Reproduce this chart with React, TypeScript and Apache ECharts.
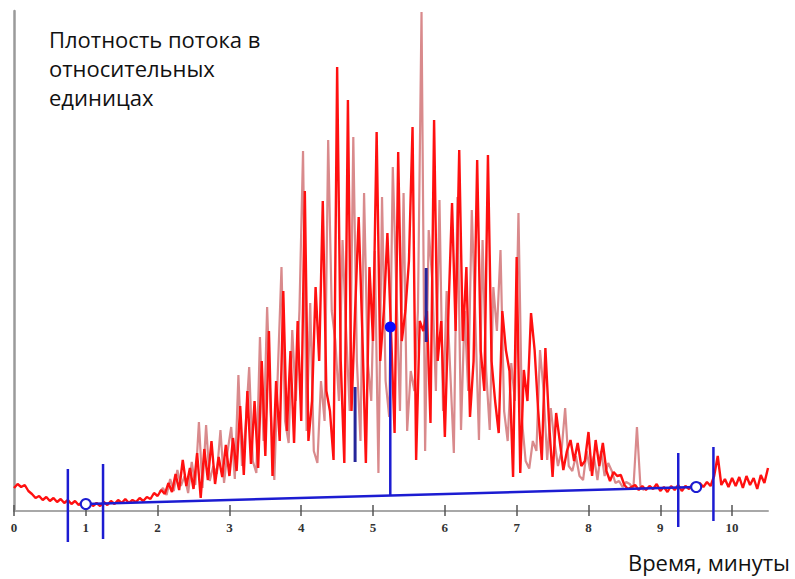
import React, { useEffect, useRef } from "react";
import * as echarts from "echarts";

// Time axis (minutes)
const xTicks = [0, 1, 2, 3, 4, 5, 6, 7, 8, 9, 10];
const xMin = 0;
const xMax = 10.5;
const yMin = 0;
const yMax = 100;

// Main red trace, sampled every 0.05 min from 0.00 to 10.50
const redStart = 0;
const redStep = 0.05;
const redValues = [
  4.6, 5.4, 4.8, 5.2, 4.0, 3.4, 2.6, 3.0, 2.2, 2.8,
  2.0, 2.6, 1.8, 2.4, 1.6, 2.2, 1.4, 2.0, 1.2, 1.8,
  1.2, 1.8, 1.0, 1.6, 1.0, 1.8, 1.2, 2.0, 1.4, 2.2,
  1.6, 2.4, 1.6, 2.2, 1.8, 2.6, 2.0, 2.8, 2.4, 3.6,
  3.0,
  4.2, 3.4, 5.6, 3.8, 7.4, 4.2, 10.2, 5.0, 8.6, 4.4,
  11.6, 2.6, 12.4, 6.2, 14.0, 5.4, 10.8, 6.8, 13.2, 7.0,
  14.6, 8.0, 21.0, 7.2, 24.0, 9.4, 22.0, 8.6, 30.0, 11.0,
  36.0, 7.0, 26.0, 14.0, 44.0, 16.0, 32.0, 13.6, 38.0, 18.0,
  64.0, 14.0, 22.0, 44.8, 30.0, 62.0, 24.0, 20.0, 10.2, 88.8,
  30.0, 9.6, 82.2, 20.0, 40.0, 58.8, 36.0, 9.6, 48.8, 34.0,
  75.8, 30.0, 40.0, 55.6, 36.0, 15.6, 71.8, 34.0, 40.0, 50.0,
  76.8, 10.2, 38.0, 36.0, 40.0, 17.6, 78.2, 30.0, 38.0, 14.8,
  40.0, 61.6, 36.0, 72.2, 34.0, 48.8, 18.8, 30.0, 70.2, 32.0,
  24.0, 71.2, 30.0, 22.0, 15.6, 40.0, 32.2, 28.0, 6.8, 50.8,
  7.6, 28.2, 22.0, 39.6, 32.2, 20.0, 10.2, 32.6, 18.0, 6.8,
  19.6, 14.0, 8.2, 12.0, 14.2, 10.0, 13.6, 9.0, 10.0, 15.8,
  7.0, 14.2, 9.0, 13.6, 8.0, 6.0, 7.8, 7.0, 7.2, 5.2,
  4.4, 4.8, 5.2, 4.2, 5.0, 4.2,
  5.0, 4.4, 5.4, 4.0, 4.8, 3.8, 5.0, 4.2, 5.2, 4.0,
  5.0, 4.4, 5.4, 4.6, 5.6, 4.8, 5.8, 5.0, 7.0, 11.0,
  5.2, 6.4, 4.8, 6.6, 5.0, 6.8, 4.6, 7.0, 5.2, 6.6,
  4.4, 7.2, 5.6, 8.6,
];

// Second (pale) trace, sampled every 0.05 min from 2.025 to 8.775
const pinkStart = 2.025;
const pinkStep = 0.05;
const pinkValues = [
  3.8, 4.6, 3.2, 6.4, 4.0, 8.2, 5.0, 7.0, 3.6, 9.8,
  5.2, 17.8, 4.6, 17.2, 6.0, 9.0, 7.4, 16.2, 5.6, 12.0,
  16.8, 6.4, 27.2, 9.0, 17.0, 28.8, 10.0, 7.6, 34.8, 14.0,
  40.8, 20.0, 6.2, 28.2, 48.8, 18.0, 13.6, 36.2, 22.0, 40.2,
  72.0, 16.0, 41.6, 12.0, 9.6, 26.0, 18.0, 74.2, 40.0, 34.0,
  22.0, 54.2, 36.0, 20.0, 74.8, 30.0, 14.0, 63.6, 30.0, 22.0,
  52.0, 7.6, 62.8, 26.0, 18.8, 68.8, 44.0, 20.0, 63.6, 16.0,
  28.0, 24.0, 40.0, 99.8, 12.0, 56.2, 46.0, 24.0, 62.2, 20.0,
  44.0, 28.0, 11.6, 62.8, 16.2, 40.0, 24.0, 60.2, 38.0, 14.2,
  54.2, 28.0, 16.2, 44.8, 36.0, 52.2, 20.0, 14.0, 29.6, 22.0,
  59.6, 18.0, 10.0, 8.5, 14.0, 12.0, 32.2, 24.0, 10.2, 20.6,
  14.0, 9.0, 12.0, 20.6, 9.0, 8.0, 11.0, 7.0, 6.2, 12.0,
  8.0, 11.0, 6.2, 12.0, 7.0, 9.6, 8.0, 5.6, 6.0, 4.8,
  5.8, 5.4, 4.4, 16.8, 4.6, 4.2,
];

// Blue annotation: baseline between two reference points
const baselineTimes = [1.0, 9.5];
const baselineValues = [1.4, 4.8];

// Blue boundary markers (vertical)
const boundaryTimes = [0.75, 1.24, 9.25, 9.74];
const boundaryTops = [8.4, 9.4, 11.6, 12.8];
const boundaryBottoms = [-6.2, -5.6, -3.2, -2.0];

// Peak marker
const peakTime = 5.24;
const peakBase = 3.1;
const peakValue = 36.8;

// Short dark-blue marks on either side of the peak
const sideTimes = [4.75, 5.74];
const sideLows = [9.8, 33.8];
const sideHighs = [24.8, 48.6];

const yTitleLines = ["Плотность потока в", "относительных", "единицах"];
const xTitle = "Время, минуты";

const BLUE = "#1c1cd2";

export default function App() {
  const ref = useRef<HTMLDivElement>(null);

  useEffect(() => {
    if (!ref.current) return;
    const chart = echarts.init(ref.current, undefined, { renderer: "svg" });

    const redData = redValues.map((v, i) => [+(redStart + i * redStep).toFixed(3), v]);
    const pinkData = pinkValues.map((v, i) => [+(pinkStart + i * pinkStep).toFixed(3), v]);

    const boundarySeries = boundaryTimes.map((t, i) => ({
      type: "line",
      data: [
        [t, boundaryTops[i]],
        [t, boundaryBottoms[i]],
      ],
      symbol: "none",
      clip: false,
      lineStyle: { color: BLUE, width: 2.5 },
      z: 6,
      silent: true,
    }));

    const sideSeries = sideTimes.map((t, i) => ({
      type: "line",
      data: [
        [t, sideLows[i]],
        [t, sideHighs[i]],
      ],
      symbol: "none",
      clip: false,
      lineStyle: { color: "#26269a", width: 3 },
      z: 6,
      silent: true,
    }));

    const option: any = {
      animation: false,
      backgroundColor: "#ffffff",
      grid: { left: 14, right: 27, top: 11, bottom: 68, containLabel: false },
      xAxis: [
        {
          type: "value",
          min: xMin,
          max: xMax,
          interval: 1,
          axisLine: { show: true, lineStyle: { color: "#a8a8a8", width: 2 } },
          axisTick: {
            show: true,
            customValues: xTicks,
            length: 5,
            lineStyle: { color: "#555555", width: 1.5 },
          },
          axisLabel: {
            customValues: xTicks,
            margin: 10,
            color: "#333333",
            fontFamily: "Liberation Serif",
            fontWeight: "bold",
            fontSize: 13,
          },
          splitLine: { show: false },
        },
        {
          type: "value",
          position: "bottom",
          offset: 0,
          min: xMin,
          max: xMax,
          interval: 1,
          axisLine: { show: false },
          axisTick: {
            show: true,
            inside: true,
            customValues: xTicks,
            length: 6,
            lineStyle: { color: "#555555", width: 1.5 },
          },
          axisLabel: { show: false },
          splitLine: { show: false },
        },
      ],
      yAxis: {
        type: "value",
        min: yMin,
        max: yMax,
        axisLine: { show: true, lineStyle: { color: "#9a9a9a", width: 2.5 } },
        axisTick: { show: false },
        axisLabel: { show: false },
        splitLine: { show: false },
      },
      series: [
        {
          type: "line",
          data: pinkData,
          symbol: "none",
          lineStyle: { color: "#d98a8c", width: 2.2 },
          z: 2,
          silent: true,
        },
        {
          type: "line",
          data: redData,
          symbol: "none",
          lineStyle: { color: "#ff1010", width: 2.4 },
          z: 3,
          silent: true,
        },
        {
          type: "line",
          data: baselineTimes.map((t, i) => [t, baselineValues[i]]),
          symbol: "emptyCircle",
          symbolSize: 10,
          itemStyle: { color: BLUE, borderColor: BLUE, borderWidth: 2 },
          lineStyle: { color: BLUE, width: 2.5 },
          z: 5,
          silent: true,
        },
        ...boundarySeries,
        {
          type: "line",
          data: [
            { value: [peakTime, peakBase], symbol: "none" },
            { value: [peakTime, peakValue], symbol: "circle", symbolSize: 11 },
          ],
          lineStyle: { color: BLUE, width: 2.5 },
          itemStyle: { color: "#0a0aff" },
          z: 7,
          silent: true,
        },
        ...sideSeries,
      ],
      graphic: [
        ...yTitleLines.map((line, i) => ({
          type: "text",
          left: 49,
          top: 28 + i * 29,
          style: {
            text: line,
            fill: "#111111",
            font: '22px "Open Sans"',
          },
          silent: true,
        })),
        {
          type: "text",
          right: 5,
          top: 551,
          style: {
            text: xTitle,
            fill: "#111111",
            font: '22px "Open Sans"',
          },
          silent: true,
        },
      ],
    };

    chart.setOption(option);
    return () => chart.dispose();
  }, []);

  return (
    <div
      ref={ref}
      style={{ position: "fixed", left: 0, top: 0, width: 795, height: 579, background: "#fff" }}
    />
  );
}
